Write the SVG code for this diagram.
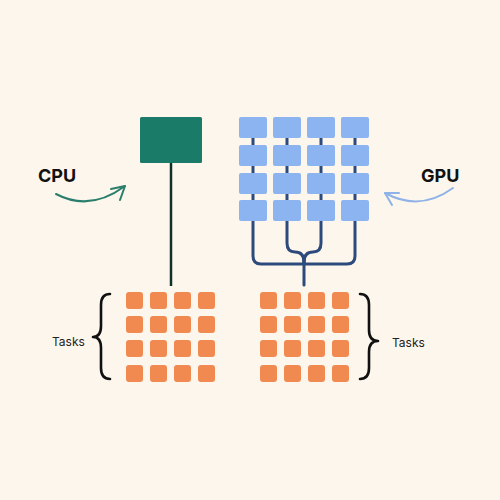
<svg xmlns="http://www.w3.org/2000/svg" width="500" height="500" viewBox="0 0 500 500">
<defs>
<style>
.bg{fill:#fdf6ec}
.blue{fill:#8bb4f0}
.task{fill:#f08a51}
.lbl{font-family:Inter,"Liberation Sans",sans-serif;font-weight:700;font-size:18px;fill:#111}
.tl{font-family:Inter,"Liberation Sans",sans-serif;font-size:12px;fill:#222}
.navy{fill:none;stroke:#2d4a7c;stroke-width:3;stroke-linecap:round}
.brace{fill:none;stroke:#111;stroke-width:2.6;stroke-linecap:round;stroke-linejoin:round}
</style>
</defs>
<rect class="bg" x="0" y="0" width="500" height="500"/>

<g id="connectors">
  <line x1="171" y1="163" x2="171" y2="286" stroke="#10302a" stroke-width="2.5"/>
  <path class="navy" d="M253,125 V256 Q253,264 261,264 H347 Q355,264 355,256 V125"/>
  <path class="navy" d="M287,125 V243 Q287,252 295,252 Q304,252 304,262"/>
  <path class="navy" d="M321,125 V243 Q321,252 313,252 Q304,252 304,262"/>
  <line class="navy" x1="304" y1="260" x2="304" y2="285"/>
  <path d="M56,194 Q90,212 125,186" fill="none" stroke="#2a7f6c" stroke-width="2" stroke-linecap="round"/>
  <path d="M111,189 L125,186 L120,200" fill="none" stroke="#2a7f6c" stroke-width="2" stroke-linecap="round" stroke-linejoin="round"/>
  <path d="M453,188 Q420,212 385,193" fill="none" stroke="#8fb3e8" stroke-width="2" stroke-linecap="round"/>
  <path d="M399,193 L385,193 L392,205" fill="none" stroke="#8fb3e8" stroke-width="2" stroke-linecap="round" stroke-linejoin="round"/>
</g>

<g id="cpu">
  <rect x="140" y="117" width="62" height="46" rx="1.5" fill="#1b7b69"/>
</g>
<g id="cpu-label"><text class="lbl" x="38" y="182">CPU</text></g>
<g id="gpu-label"><text class="lbl" x="421" y="182">GPU</text></g>

<g id="gpu">
  <rect class="blue" x="239" y="117" width="28" height="21" rx="2"/>
  <rect class="blue" x="273" y="117" width="28" height="21" rx="2"/>
  <rect class="blue" x="307" y="117" width="28" height="21" rx="2"/>
  <rect class="blue" x="341" y="117" width="28" height="21" rx="2"/>
  <rect class="blue" x="239" y="145" width="28" height="21" rx="2"/>
  <rect class="blue" x="273" y="145" width="28" height="21" rx="2"/>
  <rect class="blue" x="307" y="145" width="28" height="21" rx="2"/>
  <rect class="blue" x="341" y="145" width="28" height="21" rx="2"/>
  <rect class="blue" x="239" y="173" width="28" height="21" rx="2"/>
  <rect class="blue" x="273" y="173" width="28" height="21" rx="2"/>
  <rect class="blue" x="307" y="173" width="28" height="21" rx="2"/>
  <rect class="blue" x="341" y="173" width="28" height="21" rx="2"/>
  <rect class="blue" x="239" y="200" width="28" height="21" rx="2"/>
  <rect class="blue" x="273" y="200" width="28" height="21" rx="2"/>
  <rect class="blue" x="307" y="200" width="28" height="21" rx="2"/>
  <rect class="blue" x="341" y="200" width="28" height="21" rx="2"/>
</g>

<g id="cpu-tasks">
  <rect class="task" x="126" y="292" width="17" height="17" rx="3"/>
  <rect class="task" x="150" y="292" width="17" height="17" rx="3"/>
  <rect class="task" x="174" y="292" width="17" height="17" rx="3"/>
  <rect class="task" x="198" y="292" width="17" height="17" rx="3"/>
  <rect class="task" x="126" y="316" width="17" height="17" rx="3"/>
  <rect class="task" x="150" y="316" width="17" height="17" rx="3"/>
  <rect class="task" x="174" y="316" width="17" height="17" rx="3"/>
  <rect class="task" x="198" y="316" width="17" height="17" rx="3"/>
  <rect class="task" x="126" y="340" width="17" height="17" rx="3"/>
  <rect class="task" x="150" y="340" width="17" height="17" rx="3"/>
  <rect class="task" x="174" y="340" width="17" height="17" rx="3"/>
  <rect class="task" x="198" y="340" width="17" height="17" rx="3"/>
  <rect class="task" x="126" y="365" width="17" height="17" rx="3"/>
  <rect class="task" x="150" y="365" width="17" height="17" rx="3"/>
  <rect class="task" x="174" y="365" width="17" height="17" rx="3"/>
  <rect class="task" x="198" y="365" width="17" height="17" rx="3"/>
  <path class="brace" d="M110,294 Q101,294 101,305 V326 Q101,337 93,337 Q101,337 101,348 V368 Q101,379 110,379"/>
  <text class="tl" x="52" y="346">Tasks</text>
</g>

<g id="gpu-tasks">
  <rect class="task" x="260" y="292" width="17" height="17" rx="3"/>
  <rect class="task" x="284" y="292" width="17" height="17" rx="3"/>
  <rect class="task" x="308" y="292" width="17" height="17" rx="3"/>
  <rect class="task" x="332" y="292" width="17" height="17" rx="3"/>
  <rect class="task" x="260" y="316" width="17" height="17" rx="3"/>
  <rect class="task" x="284" y="316" width="17" height="17" rx="3"/>
  <rect class="task" x="308" y="316" width="17" height="17" rx="3"/>
  <rect class="task" x="332" y="316" width="17" height="17" rx="3"/>
  <rect class="task" x="260" y="340" width="17" height="17" rx="3"/>
  <rect class="task" x="284" y="340" width="17" height="17" rx="3"/>
  <rect class="task" x="308" y="340" width="17" height="17" rx="3"/>
  <rect class="task" x="332" y="340" width="17" height="17" rx="3"/>
  <rect class="task" x="260" y="365" width="17" height="17" rx="3"/>
  <rect class="task" x="284" y="365" width="17" height="17" rx="3"/>
  <rect class="task" x="308" y="365" width="17" height="17" rx="3"/>
  <rect class="task" x="332" y="365" width="17" height="17" rx="3"/>
  <path class="brace" d="M360,294 Q369,294 369,305 V330 Q369,341 378,341 Q369,341 369,352 V368 Q369,379 360,379"/>
  <text class="tl" x="392" y="347">Tasks</text>
</g>
</svg>
